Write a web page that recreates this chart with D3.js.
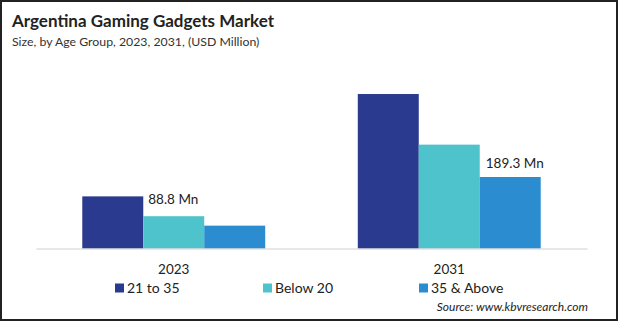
<!DOCTYPE html>
<html lang="en">
<head>
    <meta charset="UTF-8">
    <title>Argentina Gaming Gadgets Market</title>
    <script src="https://d3js.org/d3.v7.min.js"></script>
    <style>
        body { margin: 0; background: #fff; }
        text { font-family: Lato, "Open Sans", sans-serif; fill: #222; }
        .title { font-size: 17px; font-weight: bold; }
        .subtitle { font-size: 12.3px; fill: #333; }
        .legend-label { font-size: 14px; }
        .value-label { font-size: 13.5px; }
        .source { font-size: 12px; font-style: italic; }
    </style>
</head>
<body>
    <svg id="chart" width="619" height="322"></svg>

    <script>
        // data
        var years = ["2023", "2031"];
        var groups = ["21 to 35", "Below 20", "35 & Above"];
        var colors = ["#293a8f", "#4ec3cb", "#2b8ccf"];
        // bar heights (USD Million)
        var values2023 = [138.0, 85.5, 60.5];
        var values2031 = [409.0, 275.0, 189.3];
        // text labels printed on the chart
        var labelYears = ["2023", "2031"];
        var labelGroups = ["21 to 35", "35 & Above"];
        var labelTexts = ["88.8 Mn", "189.3 Mn"];

        var svg = d3.select("#chart");

        var data = [];
        years.forEach(function(y, i) {
            var vals = i === 0 ? values2023 : values2031;
            groups.forEach(function(g, j) {
                data.push({ year: y, group: g, value: vals[j] });
            });
        });

        var x0 = d3.scaleBand()
            .domain(years)
            .range([36, 587])
            .paddingInner(0.336)
            .paddingOuter(0.168);

        var x1 = d3.scaleBand()
            .domain(groups)
            .range([0, x0.bandwidth()]);

        var y = d3.scaleLinear()
            .domain([0, 189.3])
            .range([248.5, 177]);

        var color = d3.scaleOrdinal().domain(groups).range(colors);

        // frame
        svg.append("rect")
            .attr("x", 1).attr("y", 1)
            .attr("width", 616).attr("height", 319)
            .attr("fill", "none")
            .attr("stroke", "#222")
            .attr("stroke-width", 2);

        svg.append("text")
            .attr("class", "title")
            .attr("x", 12).attr("y", 27)
            .text("Argentina Gaming Gadgets Market");

        svg.append("text")
            .attr("class", "subtitle")
            .attr("x", 12).attr("y", 46)
            .text("Size, by Age Group, 2023, 2031, (USD Million)");

        svg.selectAll(".bar")
            .data(data)
            .enter().append("rect")
            .attr("class", "bar")
            .attr("x", d => x0(d.year) + x1(d.group))
            .attr("y", d => y(d.value))
            .attr("width", x1.bandwidth())
            .attr("height", d => y(0) - y(d.value))
            .attr("fill", d => color(d.group));

        // baseline axis
        var xAxis = svg.append("g")
            .attr("transform", "translate(0," + y(0) + ")")
            .call(d3.axisBottom(x0).tickSize(0).tickPadding(16));
        xAxis.select(".domain").attr("stroke", "#d0d0d0").attr("stroke-width", 1);
        xAxis.selectAll(".tick text")
            .style("font-family", "Lato, sans-serif")
            .style("font-size", "13.5px")
            .attr("fill", "#222");

        // value labels
        labelYears.forEach(function(yr, i) {
            var g = labelGroups[i];
            var d = data.find(v => v.year === yr && v.group === g);
            var lx, ly;
            if (i === 0) {
                lx = x0(yr) + x1(g) + x1.bandwidth() + 5;
                ly = y(d.value) + 8;
            } else {
                lx = x0(yr) + x1(g) + 6;
                ly = y(d.value) - 9;
            }
            svg.append("text")
                .attr("class", "value-label")
                .attr("x", lx).attr("y", ly)
                .text(labelTexts[i]);
        });

        // legend
        var legendX = [115, 263, 419];
        var legend = svg.selectAll(".legend")
            .data(groups)
            .enter().append("g")
            .attr("transform", (d, i) => "translate(" + legendX[i] + ",282)");
        legend.append("rect")
            .attr("width", 9).attr("height", 9)
            .attr("y", 1.5)
            .attr("fill", d => color(d));
        legend.append("text")
            .attr("class", "legend-label")
            .attr("x", 12).attr("y", 11)
            .text(d => d);

        svg.append("text")
            .attr("class", "source")
            .attr("x", 588).attr("y", 311)
            .attr("text-anchor", "end")
            .text("Source: www.kbvresearch.com");
    </script>
</body>
</html>
